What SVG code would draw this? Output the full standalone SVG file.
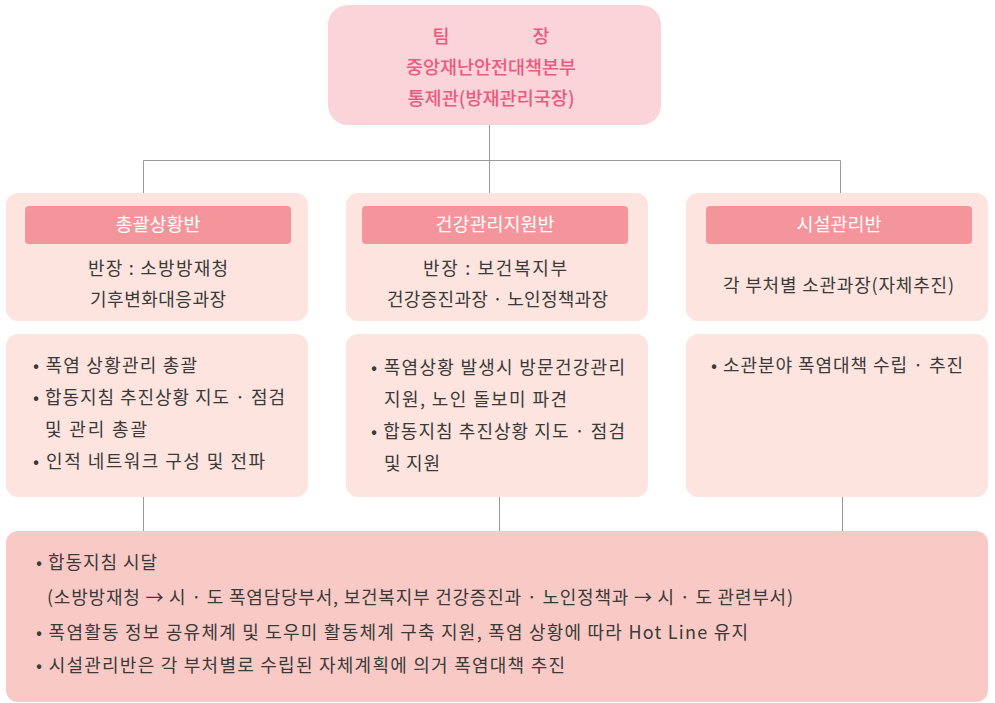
<svg xmlns="http://www.w3.org/2000/svg" width="995" height="703" viewBox="0 0 995 703">
<style>
.t{font-family:"Noto Sans CJK KR","Noto Sans",sans-serif;font-size:18px;fill:#3a3a3a}
.c{text-anchor:middle}
.top{font-family:"Noto Sans CJK KR","Noto Sans",sans-serif;font-size:18.5px;fill:#ea5a80;text-anchor:middle;font-weight:500}
.hd{font-family:"Noto Sans CJK KR","Noto Sans",sans-serif;font-size:18.5px;fill:#ffffff;text-anchor:middle}
.mid{fill:#fde4df}
.hdr{fill:#f4959c}
.ln{stroke:#9a9a9a;stroke-width:1;fill:none}
</style>
<rect width="995" height="703" fill="#ffffff"/>
<g id="connectors">
<path class="ln" d="M489.5 125V160.5M143.5 160.5H840.5M143.5 160.5V194M489.5 160.5V194M840.5 160.5V194"/>
<path class="ln" d="M143.5 497V532M499.5 497V532M842.5 497V532"/>
</g>
<g id="top">
<rect x="328" y="5" width="333" height="120" rx="20" fill="#fad4d8"/>
<text class="top" x="441" y="43">팀</text>
<text class="top" x="541" y="43">장</text>
<text class="top" x="491" y="74" textLength="170" lengthAdjust="spacing">중앙재난안전대책본부</text>
<text class="top" x="491" y="105" textLength="167" lengthAdjust="spacing">통제관(방재관리국장)</text>
</g>
<g id="team1">
<rect class="mid" x="6" y="193" width="302" height="128" rx="12"/>
<rect class="hdr" x="25" y="206" width="266" height="38" rx="4"/>
<text class="hd" x="158" y="231">총괄상황반</text>
<text class="t c" x="158" y="275" textLength="140" lengthAdjust="spacing">반장 : 소방방재청</text>
<text class="t c" x="158" y="306" textLength="136" lengthAdjust="spacing">기후변화대응과장</text>
</g>
<g id="team2">
<rect class="mid" x="346" y="193" width="302" height="128" rx="12"/>
<rect class="hdr" x="362" y="206" width="266" height="38" rx="4"/>
<text class="hd" x="495" y="231">건강관리지원반</text>
<text class="t c" x="495" y="275" textLength="144" lengthAdjust="spacing">반장 : 보건복지부</text>
<text class="t c" x="497.5" y="306" textLength="221" lengthAdjust="spacing">건강증진과장 · 노인정책과장</text>
</g>
<g id="team3">
<rect class="mid" x="686" y="193" width="302" height="128" rx="12"/>
<rect class="hdr" x="706" y="206" width="266" height="38" rx="4"/>
<text class="hd" x="839" y="231">시설관리반</text>
<text class="t c" x="838.5" y="292" textLength="231" lengthAdjust="spacing">각 부처별 소관과장(자체추진)</text>
</g>
<g id="duty1">
<rect class="mid" x="6" y="334" width="302" height="163" rx="12"/>
<text class="t" x="33" y="372" textLength="164" lengthAdjust="spacing">• 폭염 상황관리 총괄</text>
<text class="t" x="33" y="404" textLength="252" lengthAdjust="spacing">• 합동지침 추진상황 지도 · 점검</text>
<text class="t" x="45" y="436" textLength="102" lengthAdjust="spacing">및 관리 총괄</text>
<text class="t" x="33" y="468" textLength="232" lengthAdjust="spacing">• 인적 네트워크 구성 및 전파</text>
</g>
<g id="duty2">
<rect class="mid" x="346" y="334" width="302" height="163" rx="12"/>
<text class="t" x="371" y="374" textLength="254" lengthAdjust="spacing">• 폭염상황 발생시 방문건강관리</text>
<text class="t" x="384" y="406" textLength="183" lengthAdjust="spacing">지원, 노인 돌보미 파견</text>
<text class="t" x="371" y="438" textLength="254" lengthAdjust="spacing">• 합동지침 추진상황 지도 · 점검</text>
<text class="t" x="384" y="470" textLength="56" lengthAdjust="spacing">및 지원</text>
</g>
<g id="duty3">
<rect class="mid" x="686" y="334" width="302" height="163" rx="12"/>
<text class="t" x="711" y="372" textLength="252" lengthAdjust="spacing">• 소관분야 폭염대책 수립 · 추진</text>
</g>
<g id="common">
<rect x="6" y="531" width="982" height="171" rx="12" fill="#f9cac5"/>
<text class="t" x="36" y="569" textLength="121" lengthAdjust="spacing">• 합동지침 시달</text>
<text class="t" x="47" y="604" textLength="746" lengthAdjust="spacing">(소방방재청 → 시 · 도 폭염담당부서, 보건복지부 건강증진과 · 노인정책과 → 시 · 도 관련부서)</text>
<text class="t" x="36" y="639" textLength="712" lengthAdjust="spacing">• 폭염활동 정보 공유체계 및 도우미 활동체계 구축 지원, 폭염 상황에 따라 Hot Line 유지</text>
<text class="t" x="36" y="672" textLength="529" lengthAdjust="spacing">• 시설관리반은 각 부처별로 수립된 자체계획에 의거 폭염대책 추진</text>
</g>
</svg>
